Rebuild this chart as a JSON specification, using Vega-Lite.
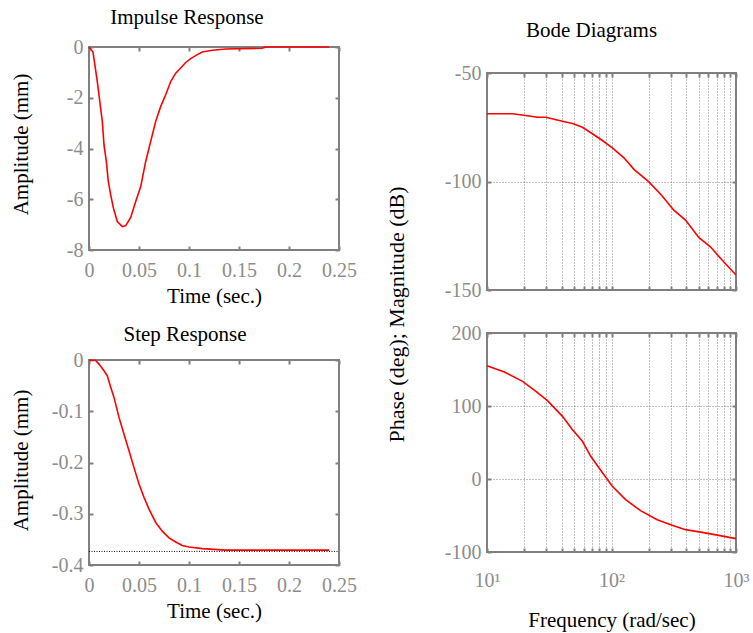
{
  "$schema": "https://vega.github.io/schema/vega-lite/v6.json",
  "background": "white",
  "padding": {"left": 8, "top": 6, "right": 5, "bottom": 5},
  "datasets": {
    "imp": [
      {"t": 0, "a": 0}, {"t": 0.004, "a": -0.2}, {"t": 0.0083, "a": -1.36}, {"t": 0.0133, "a": -2.93},
      {"t": 0.015, "a": -3.86}, {"t": 0.0173, "a": -4.5}, {"t": 0.0193, "a": -5.3}, {"t": 0.0217, "a": -5.83},
      {"t": 0.0243, "a": -6.33}, {"t": 0.0283, "a": -6.88}, {"t": 0.0333, "a": -7.08}, {"t": 0.0367, "a": -7.04},
      {"t": 0.0417, "a": -6.72}, {"t": 0.0467, "a": -6.09}, {"t": 0.0517, "a": -5.5}, {"t": 0.0567, "a": -4.51},
      {"t": 0.0617, "a": -3.72}, {"t": 0.0667, "a": -2.93}, {"t": 0.0717, "a": -2.34}, {"t": 0.0767, "a": -1.88},
      {"t": 0.0817, "a": -1.36}, {"t": 0.0867, "a": -1.03}, {"t": 0.0917, "a": -0.83}, {"t": 0.0967, "a": -0.61},
      {"t": 0.1017, "a": -0.46}, {"t": 0.1083, "a": -0.3}, {"t": 0.1133, "a": -0.2}, {"t": 0.1233, "a": -0.13},
      {"t": 0.1367, "a": -0.08}, {"t": 0.1733, "a": -0.05}, {"t": 0.1767, "a": 0}, {"t": 0.24, "a": 0}
    ],
    "step": [
      {"t": 0, "a": 0}, {"t": 0.0067, "a": -0.001}, {"t": 0.01, "a": -0.008}, {"t": 0.015, "a": -0.021},
      {"t": 0.0183, "a": -0.031}, {"t": 0.0217, "a": -0.053}, {"t": 0.025, "a": -0.073}, {"t": 0.03, "a": -0.112},
      {"t": 0.035, "a": -0.145}, {"t": 0.04, "a": -0.177}, {"t": 0.045, "a": -0.21}, {"t": 0.05, "a": -0.242},
      {"t": 0.055, "a": -0.268}, {"t": 0.06, "a": -0.291}, {"t": 0.0667, "a": -0.317}, {"t": 0.0733, "a": -0.334},
      {"t": 0.08, "a": -0.347}, {"t": 0.0867, "a": -0.355}, {"t": 0.0933, "a": -0.362}, {"t": 0.1, "a": -0.365},
      {"t": 0.1133, "a": -0.368}, {"t": 0.1367, "a": -0.371}, {"t": 0.24, "a": -0.371}
    ],
    "fin": [{"t": 0, "a": -0.3735}, {"t": 0.25, "a": -0.3735}],
    "mag": [
      {"w": 10, "m": -68.8}, {"w": 16.06, "m": -68.8}, {"w": 20.5, "m": -69.6}, {"w": 25.5, "m": -70.4},
      {"w": 29.7, "m": -70.4}, {"w": 40.4, "m": -72.2}, {"w": 48.6, "m": -73.3}, {"w": 58.4, "m": -75.0},
      {"w": 70.2, "m": -78.0}, {"w": 84.5, "m": -81.1}, {"w": 101.6, "m": -84.5}, {"w": 125.9, "m": -89.1},
      {"w": 151.5, "m": -94.4}, {"w": 199.7, "m": -100.2}, {"w": 255.4, "m": -106.7}, {"w": 316.7, "m": -113.2},
      {"w": 392.8, "m": -117.8}, {"w": 502.2, "m": -125.8}, {"w": 622.9, "m": -130.1}, {"w": 772.6, "m": -136.2},
      {"w": 1000, "m": -143.1}
    ],
    "ph": [
      {"w": 10, "p": 155.3}, {"w": 13.8, "p": 146.6}, {"w": 19.3, "p": 133.8}, {"w": 24.7, "p": 120.1},
      {"w": 30.6, "p": 107.3}, {"w": 40.4, "p": 85.8}, {"w": 48.6, "p": 67.6}, {"w": 58.4, "p": 51.6},
      {"w": 68.1, "p": 31.1}, {"w": 79.4, "p": 15.1}, {"w": 101.6, "p": -10}, {"w": 129.9, "p": -28.3},
      {"w": 171.2, "p": -43.4}, {"w": 232.9, "p": -55.7}, {"w": 307.2, "p": -63.5}, {"w": 392.8, "p": -69.4},
      {"w": 534.2, "p": -73.1}, {"w": 726.3, "p": -77.2}, {"w": 1000, "p": -81.7}
    ]
  },
  "config": {
    "font": "Liberation Serif",
    "view": {"stroke": "#808080", "strokeWidth": 2},
    "axis": {
      "domain": false, "grid": false,
      "labelFont": "Liberation Serif", "labelFontSize": 20, "labelColor": "#8c8c8c",
      "titleFont": "Liberation Serif", "titleFontSize": 21, "titleFontWeight": "normal", "titleColor": "#000000",
      "tickColor": "#808080", "tickSize": -4, "tickWidth": 2,
      "gridColor": "#808080", "gridDash": [1, 2], "gridWidth": 1, "gridOpacity": 1,
      "labelFlush": false, "labelOverlap": false
    },
    "axisX": {"labelPadding": 14, "titlePadding": 5},
    "axisY": {"labelPadding": 10},
    "title": {"font": "Liberation Serif", "fontSize": 21, "fontWeight": "normal", "color": "#000000"},
    "line": {"color": "#ff0000", "strokeWidth": 1.6}
  },
  "spacing": 26,
  "hconcat": [
    {
      "spacing": 110,
      "bounds": "flush",
      "vconcat": [
        {
          "title": {"text": "Impulse Response", "dx": -27, "offset": 9},
          "width": 250, "height": 203,
          "data": {"name": "imp"},
          "resolve": {"axis": {"x": "independent", "y": "independent"}},
          "layer": [
            {
              "mark": {"type": "line"},
              "encoding": {
                "x": {"field": "t", "type": "quantitative", "scale": {"domain": [0, 0.25], "nice": false},
                      "axis": {"values": [0, 0.05, 0.1, 0.15, 0.2, 0.25], "labelExpr": "'' + datum.value", "title": "Time (sec.)"}},
                "y": {"field": "a", "type": "quantitative", "scale": {"domain": [-8, 0], "nice": false},
                      "axis": {"values": [-8, -6, -4, -2, 0], "labelExpr": "'' + datum.value", "title": "Amplitude (mm)", "titleX": -68, "titleY": 97, "titleBaseline": "middle"}}
              }
            },
            {
              "mark": {"type": "line", "opacity": 0},
              "encoding": {
                "x": {"field": "t", "type": "quantitative", "axis": {"orient": "top", "values": [0, 0.05, 0.1, 0.15, 0.2, 0.25], "labels": false, "title": null}},
                "y": {"field": "a", "type": "quantitative", "axis": {"orient": "right", "values": [-8, -6, -4, -2, 0], "labels": false, "title": null}}
              }
            }
          ]
        },
        {
          "title": {"text": "Step Response", "dx": -29, "offset": 5},
          "width": 250, "height": 205,
          "resolve": {"axis": {"x": "independent", "y": "independent"}},
          "layer": [
            {
              "data": {"name": "step"},
              "mark": {"type": "line"},
              "encoding": {
                "x": {"field": "t", "type": "quantitative", "scale": {"domain": [0, 0.25], "nice": false},
                      "axis": {"values": [0, 0.05, 0.1, 0.15, 0.2, 0.25], "labelExpr": "'' + datum.value", "title": "Time (sec.)"}},
                "y": {"field": "a", "type": "quantitative", "scale": {"domain": [-0.4, 0], "nice": false},
                      "axis": {"values": [-0.4, -0.3, -0.2, -0.1, 0], "labelExpr": "'' + datum.value", "title": "Amplitude (mm)", "titleX": -68, "titleY": 100, "titleBaseline": "middle"}}
              }
            },
            {
              "data": {"name": "fin"},
              "mark": {"type": "line", "color": "#000000", "strokeWidth": 1, "strokeDash": [1, 1.5]},
              "encoding": {
                "x": {"field": "t", "type": "quantitative", "axis": {"orient": "top", "values": [0, 0.05, 0.1, 0.15, 0.2, 0.25], "labels": false, "title": null}},
                "y": {"field": "a", "type": "quantitative", "axis": {"orient": "right", "values": [-0.4, -0.3, -0.2, -0.1, 0], "labels": false, "title": null}}
              }
            }
          ]
        }
      ]
    },
    {
      "spacing": 25,
      "bounds": "flush",
      "vconcat": [
        {
          "width": 249, "height": 1,
          "view": {"stroke": null},
          "data": {"values": []},
          "mark": {"type": "point", "opacity": 0},
          "encoding": {}
        },
        {
          "spacing": 43,
          "bounds": "flush",
          "vconcat": [
            {
              "title": {"text": "Bode Diagrams", "dx": -20, "offset": 22},
              "width": 249, "height": 217,
              "data": {"name": "mag"},
              "resolve": {"axis": {"x": "independent", "y": "independent"}},
              "layer": [
                {
                  "mark": {"type": "line"},
                  "encoding": {
                    "x": {"field": "w", "type": "quantitative", "scale": {"type": "log", "domain": [10, 1000], "nice": false},
                          "axis": {"values": [10, 20, 30, 40, 50, 60, 70, 80, 90, 100, 200, 300, 400, 500, 600, 700, 800, 900, 1000], "labels": false, "title": null, "grid": true}},
                    "y": {"field": "m", "type": "quantitative", "scale": {"domain": [-150, -50], "nice": false},
                          "axis": {"values": [-150, -100, -50], "labelExpr": "'' + datum.value", "grid": true, "title": "Phase (deg); Magnitude (dB)", "titleFontSize": 22, "titleX": -91, "titleY": 241, "titleBaseline": "middle"}}
                  }
                },
                {
                  "mark": {"type": "line", "opacity": 0},
                  "encoding": {
                    "x": {"field": "w", "type": "quantitative", "axis": {"orient": "top", "values": [10, 20, 30, 40, 50, 60, 70, 80, 90, 100, 200, 300, 400, 500, 600, 700, 800, 900, 1000], "labels": false, "title": null}},
                    "y": {"field": "m", "type": "quantitative", "axis": {"orient": "right", "values": [-150, -100, -50], "labels": false, "title": null}}
                  }
                }
              ]
            },
            {
              "width": 249, "height": 219,
              "data": {"name": "ph"},
              "resolve": {"axis": {"x": "independent", "y": "independent"}},
              "layer": [
                {
                  "mark": {"type": "line"},
                  "encoding": {
                    "x": {"field": "w", "type": "quantitative", "scale": {"type": "log", "domain": [10, 1000], "nice": false},
                          "axis": {"values": [10, 20, 30, 40, 50, 60, 70, 80, 90, 100, 200, 300, 400, 500, 600, 700, 800, 900, 1000], "grid": true,
                                   "labelExpr": "datum.value == 10 ? '10¹' : datum.value == 100 ? '10²' : datum.value == 1000 ? '10³' : ''",
                                   "labelPadding": 22, "title": "Frequency (rad/sec)", "titlePadding": 19}},
                    "y": {"field": "p", "type": "quantitative", "scale": {"domain": [-100, 200], "nice": false},
                          "axis": {"values": [-100, 0, 100, 200], "labelExpr": "'' + datum.value", "grid": true, "title": null}}
                  }
                },
                {
                  "mark": {"type": "line", "opacity": 0},
                  "encoding": {
                    "x": {"field": "w", "type": "quantitative", "axis": {"orient": "top", "values": [10, 20, 30, 40, 50, 60, 70, 80, 90, 100, 200, 300, 400, 500, 600, 700, 800, 900, 1000], "labels": false, "title": null}},
                    "y": {"field": "p", "type": "quantitative", "axis": {"orient": "right", "values": [-100, 0, 100, 200], "labels": false, "title": null}}
                  }
                }
              ]
            }
          ]
        }
      ]
    }
  ]
}
